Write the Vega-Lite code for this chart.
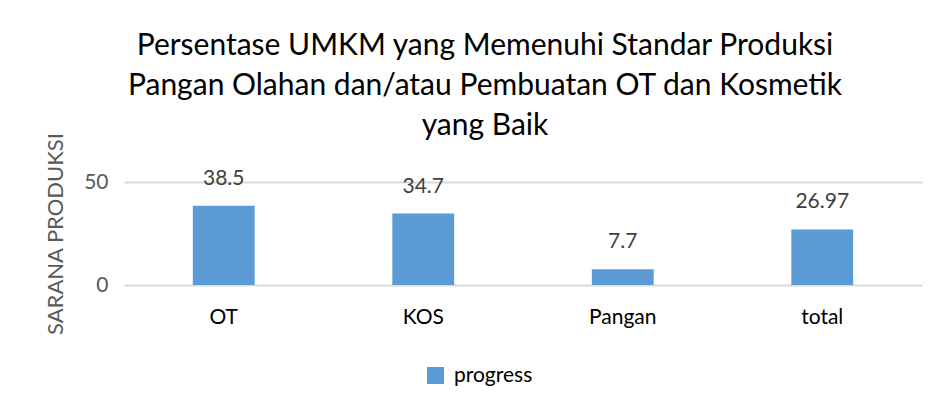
{
  "$schema": "https://vega.github.io/schema/vega-lite/v6.json",
  "autosize": "none",
  "width": 798,
  "height": 103,
  "padding": {"left": 124, "top": 182, "right": 16, "bottom": 122},
  "background": "white",
  "config": {
    "font": "Lato",
    "view": {"stroke": null}
  },
  "title": {
    "text": ["Persentase UMKM yang Memenuhi Standar Produksi", "Pangan Olahan dan/atau Pembuatan OT dan Kosmetik", "yang Baik"],
    "fontSize": 30,
    "fontWeight": "normal",
    "color": "#000000",
    "lineHeight": 40,
    "anchor": "middle",
    "dx": -38,
    "offset": -9
  },
  "data": {
    "values": [
      {"kategori": "OT", "nilai": 38.5, "seri": "progress"},
      {"kategori": "KOS", "nilai": 34.7, "seri": "progress"},
      {"kategori": "Pangan", "nilai": 7.7, "seri": "progress"},
      {"kategori": "total", "nilai": 26.97, "seri": "progress"}
    ]
  },
  "encoding": {
    "x": {
      "field": "kategori",
      "type": "nominal",
      "sort": null,
      "scale": {"paddingInner": 0.69, "paddingOuter": 0.345},
      "axis": {
        "title": null,
        "labelAngle": 0,
        "domain": false,
        "ticks": false,
        "labelFontSize": 21,
        "labelColor": "#000000",
        "labelPadding": 21
      }
    },
    "y": {
      "field": "nilai",
      "type": "quantitative",
      "scale": {"domain": [0, 50], "nice": false},
      "axis": {
        "title": "SARANA PRODUKSI",
        "titleFontSize": 22,
        "titleFontWeight": "normal",
        "titleColor": "#595959",
        "titlePadding": 16,
        "values": [0, 50],
        "labelFontSize": 21,
        "labelColor": "#595959",
        "labelPadding": 16,
        "domain": false,
        "ticks": false,
        "gridColor": "#D9D9D9",
        "gridWidth": 2
      }
    }
  },
  "layer": [
    {
      "mark": {"type": "bar"},
      "encoding": {
        "color": {
          "field": "seri",
          "type": "nominal",
          "scale": {"range": ["#5B9BD5"]},
          "legend": {
            "title": null,
            "orient": "none",
            "legendX": 301,
            "legendY": 183,
            "symbolType": "square",
            "symbolSize": 289,
            "symbolStrokeWidth": 0,
            "labelFontSize": 21,
            "labelColor": "#000000",
            "labelOffset": 8
          }
        }
      }
    },
    {
      "mark": {"type": "text", "baseline": "middle", "dy": -27, "fontSize": 21, "color": "#404040"},
      "encoding": {
        "text": {"field": "nilai", "type": "quantitative"}
      }
    }
  ]
}
